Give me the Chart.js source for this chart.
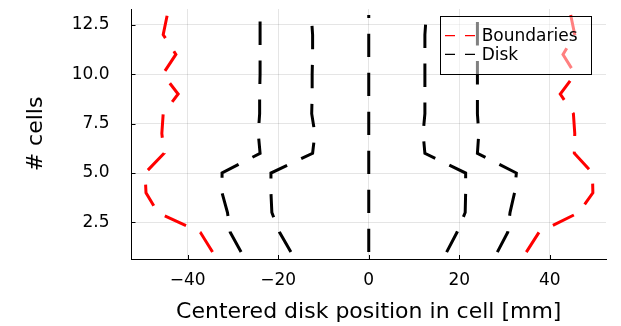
<!DOCTYPE html>
<html>
<head>
<meta charset="utf-8">
<script src="https://cdn.jsdelivr.net/npm/chart.js@4"></script>
<style>
  html, body { margin: 0; padding: 0; background: #fff; }
  #wrap { width: 621px; height: 326px; }
</style>
</head>
<body>
<div id="wrap"><canvas id="c" width="621" height="326"></canvas></div>
<script>
// Cell index along the stack
const cells = [1, 2, 3, 4, 5, 6, 7, 8, 9, 10, 11, 12, 13];

// Cell boundaries (mm), left and right walls
const boundaryLeft  = [-34.5, -37.2, -46.6, -49.2, -49.4, -45.2, -45.7, -45.4, -42.1, -45.5, -42.6, -45.4, -44.5];
const boundaryRight = [34.8, 37.6, 46.4, 49.5, 49.4, 45.4, 45.5, 45.2, 42.3, 45.6, 42.9, 45.5, 44.6];

// Disk edges and centre (mm)
const diskOuterLeft  = [-28.2, -30.6, -31.2, -32.4, -32.4, -24.0, -24.4, -24.1, -24.1, -24.0, -24.0, -24.0, -24.0];
const diskInnerLeft  = [-17.2, -19.7, -21.4, -21.6, -21.6, -12.4, -11.9, -12.6, -12.5, -12.5, -12.4, -12.4, -12.7];
const diskCenter     = [0, 0, 0, 0, 0, 0, 0, 0, 0, 0, 0, 0, 0];
const diskInnerRight = [17.2, 19.5, 21.3, 21.4, 21.4, 12.4, 12.0, 12.4, 12.4, 12.4, 12.4, 12.4, 12.7];
const diskOuterRight = [28.4, 30.7, 31.2, 32.2, 32.6, 24.0, 24.3, 24.0, 24.0, 24.0, 24.0, 24.0, 24.0];

// Axis ticks
const xTicks = [-40, -20, 0, 20, 40];
const xTickLabels = ['\u221240', '\u221220', '0', '20', '40'];
const yTicks = [2.5, 5.0, 7.5, 10.0, 12.5];
const yTickLabels = ['2.5', '5.0', '7.5', '10.0', '12.5'];

// Legend entries
const legendNames = ['Boundaries', 'Disk'];
const legendColors = ['#ff0000', '#000000'];

const FONT = 'DejaVu Sans';
const DASH = [23.4, 15.6];

function series(xs, color, group) {
  return {
    label: group,
    data: xs.map((x, i) => ({ x: x, y: cells[i] })),
    borderColor: color,
    backgroundColor: color,
    borderWidth: 3,
    borderDash: DASH,
    borderCapStyle: 'butt',
    pointRadius: 0,
    pointHoverRadius: 0,
    fill: false,
    tension: 0
  };
}

// Keep the plot area fixed: no extra room reserved for edge labels
function noEdgePadding(s) {
  s.paddingTop = 0;
  s.paddingBottom = 0;
  s.paddingLeft = 0;
  s.paddingRight = 0;
}

// Small inward tick marks on both axes
const innerTicks = {
  id: 'innerTicks',
  afterDatasetsDraw(chart) {
    const { ctx, chartArea: a, scales: { x, y } } = chart;
    ctx.save();
    ctx.strokeStyle = '#000';
    ctx.lineWidth = 1;
    ctx.beginPath();
    xTicks.forEach(v => {
      const px = Math.round(x.getPixelForValue(v)) + 0.5;
      ctx.moveTo(px, a.bottom);
      ctx.lineTo(px, a.bottom - 4);
    });
    yTicks.forEach(v => {
      const py = Math.round(y.getPixelForValue(v)) + 0.5;
      ctx.moveTo(a.left, py);
      ctx.lineTo(a.left + 4, py);
    });
    ctx.stroke();
    ctx.restore();
  }
};

// Legend box drawn inside the plot area, top right
const insetLegend = {
  id: 'insetLegend',
  afterDatasetsDraw(chart) {
    const { ctx, chartArea: a } = chart;
    const w = 150.7, h = 58.3;
    const left = a.right - 15.3 - w;
    const top = a.top + 6.7;
    ctx.save();
    ctx.fillStyle = 'rgba(255,255,255,0.5)';
    ctx.fillRect(left, top, w, h);
    ctx.strokeStyle = '#000';
    ctx.lineWidth = 1;
    ctx.strokeRect(Math.round(left) + 0.5, Math.round(top) + 0.5, Math.round(w), Math.round(h));
    ctx.font = '17px "' + FONT + '"';
    ctx.textBaseline = 'middle';
    ctx.textAlign = 'left';
    legendNames.forEach((name, i) => {
      const cy = top + 20 + i * 18.7;
      ctx.strokeStyle = legendColors[i];
      ctx.lineWidth = 1.2;
      ctx.setLineDash([10, 10]);
      ctx.beginPath();
      ctx.moveTo(left + 5, cy);
      ctx.lineTo(left + 36, cy);
      ctx.stroke();
      ctx.setLineDash([]);
      ctx.fillStyle = '#000';
      ctx.fillText(name, left + 41.7, cy + 1);
    });
    ctx.restore();
  }
};

new Chart(document.getElementById('c'), {
  type: 'line',
  data: {
    datasets: [
      series(boundaryLeft, '#ff0000', 'Boundaries'),
      series(boundaryRight, '#ff0000', 'Boundaries'),
      series(diskOuterLeft, '#000000', 'Disk'),
      series(diskInnerLeft, '#000000', 'Disk'),
      series(diskCenter, '#000000', 'Disk'),
      series(diskInnerRight, '#000000', 'Disk'),
      series(diskOuterRight, '#000000', 'Disk')
    ]
  },
  options: {
    responsive: false,
    animation: false,
    devicePixelRatio: 1,
    layout: { padding: { top: 9, right: 15, left: 0, bottom: 0 } },
    plugins: { legend: { display: false }, tooltip: { enabled: false } },
    scales: {
      x: {
        type: 'linear',
        min: -52.4,
        max: 52.4,
        afterFit(s) { s.height = 67; noEdgePadding(s); },
        afterBuildTicks(s) { s.ticks = xTicks.map(v => ({ value: v })); },
        ticks: {
          padding: 11,
          color: '#000',
          font: { family: FONT, size: 17 },
          maxRotation: 0,
          callback: (v) => xTickLabels[xTicks.indexOf(v)]
        },
        grid: { color: 'rgba(0,0,0,0.1)', lineWidth: 1, drawTicks: false },
        border: { color: '#000', width: 1 },
        title: {
          display: true,
          text: 'Centered disk position in cell [mm]',
          color: '#000',
          font: { family: FONT, size: 22 },
          padding: { top: 0, bottom: 1 }
        }
      },
      y: {
        type: 'linear',
        min: 0.65,
        max: 13.3,
        afterFit(s) { s.width = 131.5; noEdgePadding(s); },
        afterBuildTicks(s) { s.ticks = yTicks.map(v => ({ value: v })); },
        ticks: {
          padding: 22,
          color: '#000',
          font: { family: FONT, size: 17 },
          callback: (v) => yTickLabels[yTicks.indexOf(v)]
        },
        grid: { color: 'rgba(0,0,0,0.1)', lineWidth: 1, drawTicks: false },
        border: { color: '#000', width: 1 },
        title: {
          display: true,
          text: '# cells',
          color: '#000',
          font: { family: FONT, size: 22 },
          padding: { top: 23, bottom: 0 }
        }
      }
    }
  },
  plugins: [innerTicks, insetLegend]
});
</script>
</body>
</html>
